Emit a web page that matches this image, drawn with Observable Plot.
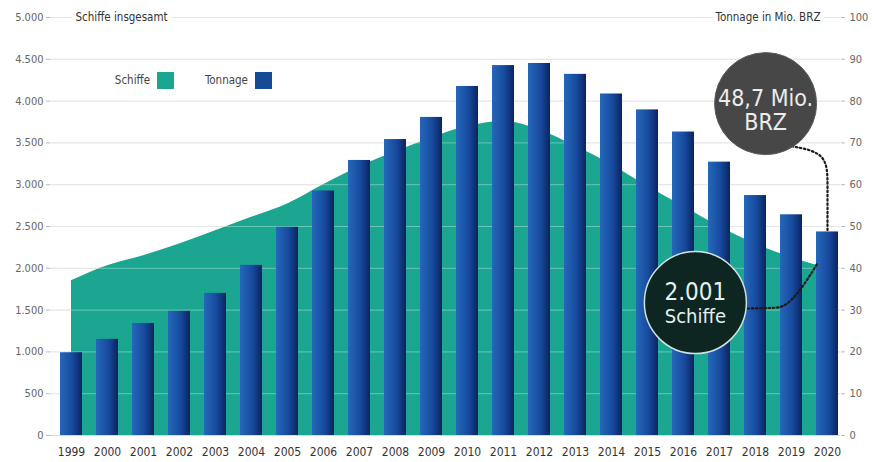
<!DOCTYPE html>
<html>
<head>
<meta charset="utf-8">
<script src="https://cdn.jsdelivr.net/npm/d3@7"></script>
<script src="https://cdn.jsdelivr.net/npm/@observablehq/plot@0.6"></script>
<style>
  body { margin: 0; background: #fff; }
  #wrap { position: relative; width: 875px; height: 462px; overflow: hidden; }
  .lg { position: absolute; font-family: "DejaVu Sans Condensed", "Liberation Sans Narrow", Roboto, sans-serif; font-size: 11.5px; color: #444; }
  .sw { position: absolute; width: 17px; height: 17px; }
</style>
</head>
<body>
<div id="wrap"></div>
<script>
// ---- data ----
const years = [1999, 2000, 2001, 2002, 2003, 2004, 2005, 2006, 2007, 2008, 2009, 2010,
               2011, 2012, 2013, 2014, 2015, 2016, 2017, 2018, 2019, 2020];
const schiffe = [1850, 2030, 2150, 2290, 2450, 2610, 2770, 3000, 3215, 3395, 3560, 3695,
                 3760, 3655, 3460, 3240, 2980, 2740, 2500, 2290, 2130, 2001];
const tonnage = [19.8, 23.0, 26.8, 29.7, 34.0, 40.7, 49.8, 58.5, 65.8, 70.8, 76.1, 83.5,
                 88.5, 89.0, 86.4, 81.7, 77.9, 72.6, 65.4, 57.4, 52.8, 48.7];
const leftTicks = [0, 500, 1000, 1500, 2000, 2500, 3000, 3500, 4000, 4500, 5000];
const rightTicks = [0, 10, 20, 30, 40, 50, 60, 70, 80, 90, 100];
const leftTitle = "Schiffe insgesamt";
const rightTitle = "Tonnage in Mio. BRZ";
const legendLabels = ["Schiffe", "Tonnage"];
// annotation anchors (year, value on ship scale)
const circleTon = {year: 2018.28, value: 3970};
const circleShips = {year: 2016.33, value: 1590};
const connTon = [[2019.0, 3460], [2020, 3380], [2020, 3000]];
const connShips = [[2017.78, 1519], [2018.6, 1530]];

// ---- setup ----
const k = 5000 / 100; // right axis -> left axis
const de = d3.formatLocale({decimal: ",", thousands: ".", grouping: [3], currency: ["", " €"]});
const fmtInt = de.format(",d");
const fmt1 = de.format(",.1f");
const data = years.map((y, i) => ({year: y, schiffe: schiffe[i], tonnage: tonnage[i]}));
const last = data[data.length - 1];
const tonLine = [...connTon.map(([x, v]) => ({x, v})), {x: last.year, v: last.tonnage * k}];
const shipLine = [...connShips.map(([x, v]) => ({x, v})), {x: last.year - 0.28, v: last.schiffe + 56}];

const teal = "#1aa690";
const font = "'DejaVu Sans Condensed', 'Liberation Sans Narrow', Roboto, sans-serif";

const svg = Plot.plot({
  width: 875,
  height: 462,
  marginLeft: 50,
  marginRight: 35,
  marginTop: 17,
  marginBottom: 27,
  style: {fontFamily: font, fontSize: "11px", color: "#555", background: "white"},
  x: {type: "linear", domain: [1998.5, 2020.5], range: [53, 845]},
  y: {domain: [0, 5000]},
  marks: [
    Plot.ruleY(leftTicks, {stroke: "#d8d8d8", strokeWidth: 1}),
    Plot.areaY(data, {x: "year", y: "schiffe", fill: teal, curve: "monotone-x"}),
    Plot.ruleY(leftTicks.filter(d => d > 0), {stroke: "white", strokeOpacity: 0.35, strokeWidth: 1}),
    Plot.rectY(data, {x1: d => d.year - 0.5, x2: d => d.year + 0.5, y: d => d.tonnage * k,
      insetLeft: 7, insetRight: 7, fill: "url(#barGrad)"}),
    Plot.axisY({ticks: leftTicks, tickFormat: fmtInt, anchor: "left", tickSize: 4, tickPadding: 3,
      stroke: "#bbb", fill: "#666", label: null, fontSize: 11}),
    Plot.axisY({ticks: rightTicks.map(v => v * k), tickFormat: d => fmtInt(d / k), anchor: "right",
      tickSize: 4, tickPadding: 5, stroke: "#bbb", fill: "#666", label: null, fontSize: 11}),
    Plot.axisX({ticks: years, tickFormat: d => String(d), tickSize: 0, tickPadding: 12,
      fill: "#333", label: null, fontSize: 12}),
    Plot.text([leftTitle], {frameAnchor: "top-left", dx: 25, text: d => d, textAnchor: "start",
      lineAnchor: "middle", fill: "#333", stroke: "white", strokeWidth: 10, fontSize: 11.5}),
    Plot.text([rightTitle], {frameAnchor: "top-right", dx: -20, text: d => d, textAnchor: "end",
      lineAnchor: "middle", fill: "#333", stroke: "white", strokeWidth: 10, fontSize: 11.5}),
    Plot.line(tonLine, {x: "x", y: "v", curve: "basis", stroke: "#1a1a1a", strokeWidth: 2.2,
      strokeDasharray: "1.6,2.6"}),
    Plot.line(shipLine, {x: "x", y: "v", curve: "monotone-x", stroke: "#1a1a1a", strokeWidth: 2.2,
      strokeDasharray: "1.6,2.6"}),
    Plot.dot([circleTon], {x: "year", y: "value", r: 51, fill: "#474747", stroke: "#5a5a5a", strokeWidth: 1}),
    Plot.dot([circleShips], {x: "year", y: "value", r: 51, fill: "#0d2622", stroke: "#cfe3e0", strokeWidth: 1.5}),
    Plot.text([circleTon], {x: "year", y: "value", dy: 7, text: () => fmt1(last.tonnage) + " Mio.\nBRZ",
      fill: "#ececec", fontSize: 23, lineHeight: 1.05}),
    Plot.text([circleShips], {x: "year", y: "value", dy: -10, text: () => fmtInt(last.schiffe),
      fill: "#e6efed", fontSize: 24}),
    Plot.text([circleShips], {x: "year", y: "value", dy: 14, text: () => "Schiffe",
      fill: "#e6efed", fontSize: 20})
  ]
});

const defs = document.createElementNS("http://www.w3.org/2000/svg", "defs");
defs.innerHTML = `<linearGradient id="barGrad" x1="0" x2="1" y1="0" y2="0">
  <stop offset="0%" stop-color="#2468ba"/>
  <stop offset="55%" stop-color="#174b9e"/>
  <stop offset="100%" stop-color="#0a2460"/>
</linearGradient>`;
svg.insertBefore(defs, svg.firstChild);

const wrap = document.getElementById("wrap");
wrap.appendChild(svg);

// legend overlay
const lg = [
  {label: legendLabels[0], right: 725, sw: 157, color: teal},
  {label: legendLabels[1], right: 627, sw: 255, color: "#154a94"}
];
for (const l of lg) {
  const t = document.createElement("div");
  t.className = "lg";
  t.textContent = l.label;
  t.style.right = l.right + "px";
  t.style.top = "73px";
  wrap.appendChild(t);
  const s = document.createElement("div");
  s.className = "sw";
  s.style.left = l.sw + "px";
  s.style.top = "72px";
  s.style.background = l.color;
  wrap.appendChild(s);
}
</script>
</body>
</html>
